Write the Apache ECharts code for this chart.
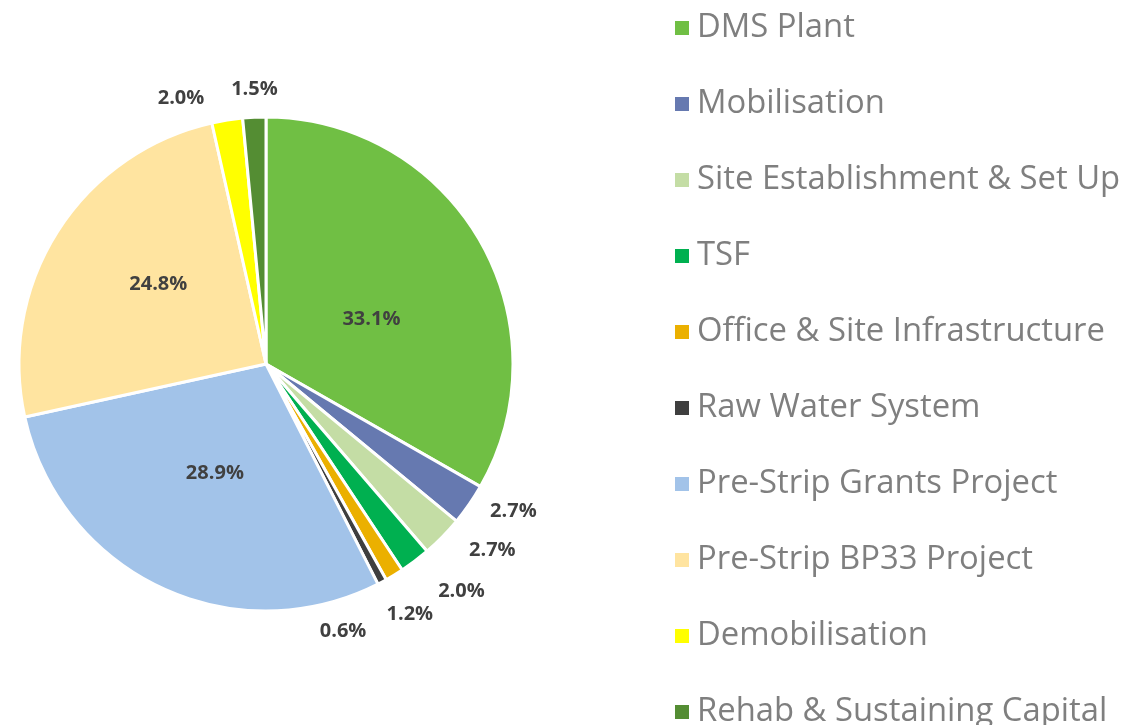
<!DOCTYPE html>
<html>
<head>
<meta charset="utf-8">
<script src="https://cdn.jsdelivr.net/npm/echarts@6/dist/echarts.min.js"></script>
<style>
  html, body { margin: 0; padding: 0; background: #fff; }
  #chart { width: 1123px; height: 725px; }
</style>
</head>
<body>
<div id="chart"></div>
<script>
// cost breakdown, percent of total
var categories = ['DMS Plant', 'Mobilisation', 'Site Establishment & Set Up', 'TSF',
    'Office & Site Infrastructure', 'Raw Water System', 'Pre-Strip Grants Project',
    'Pre-Strip BP33 Project', 'Demobilisation', 'Rehab & Sustaining Capital'];
var shares = [33.1, 2.7, 2.7, 2.0, 1.2, 0.6, 28.9, 24.8, 2.0, 1.5];
var colors = ['#70bf44', '#6679b0', '#c4dda5', '#00b050', '#ebb000', '#3f3f3f',
    '#a2c3e9', '#ffe4a0', '#ffff00', '#548d33'];

// slices big enough to hold their label inside
var insideLabel = [true, false, false, false, false, false, true, true, false, false];
// small nudges so labels sit where the original placed them
var labelNudge = [[-4, 19], [0, 0], [7, 5], [5, 21], [-25, 29], [-79, 39],
    [3, -5], [-1, -12], [-10, -10], [35, -16]];

var myChart = echarts.init(document.getElementById('chart'));

var pieData = categories.map(function (name, i) {
    var item = { name: name, value: shares[i], itemStyle: { color: colors[i] } };
    if (insideLabel[i]) {
        item.label = { position: 'inside' };
    }
    return item;
});

var option = {
    animation: false,
    textStyle: { fontFamily: 'Open Sans' },
    legend: {
        orient: 'vertical',
        left: 668,
        top: 5,
        height: 800,
        itemWidth: 16,
        itemHeight: 16,
        itemGap: 40,
        icon: 'rect',
        selectedMode: false,
        textStyle: {
            fontFamily: 'Open Sans',
            fontSize: 32.8,
            color: '#7f7f7f',
            lineHeight: 36,
            padding: [0, 0, 0, 2]
        },
        data: categories
    },
    series: [
        {
            type: 'pie',
            center: [266, 364],
            radius: 247,
            startAngle: 90,
            clockwise: true,
            avoidLabelOverlap: false,
            itemStyle: { borderColor: '#fff', borderWidth: 3 },
            label: {
                show: true,
                position: 'outside',
                formatter: function (p) { return p.value.toFixed(1) + '%'; },
                fontFamily: 'Open Sans',
                fontWeight: 'bold',
                fontSize: 20,
                color: '#404040'
            },
            labelLine: { show: false, length: 12, length2: 6 },
            labelLayout: function (p) {
                var n = labelNudge[p.dataIndex];
                return { hideOverlap: false, dx: n[0], dy: n[1] };
            },
            emphasis: { disabled: true },
            data: pieData
        }
    ]
};

myChart.setOption(option);
</script>
</body>
</html>
